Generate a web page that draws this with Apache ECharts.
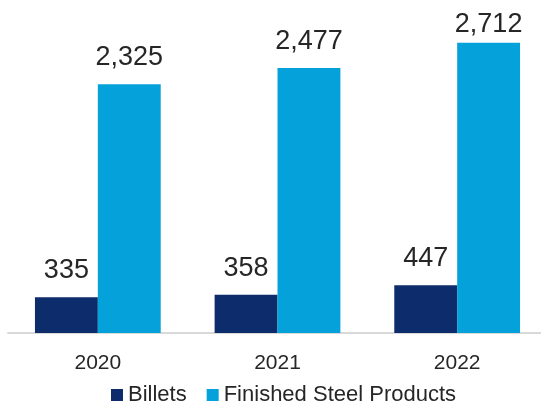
<!DOCTYPE html>
<html>
<head>
<meta charset="utf-8">
<script src="https://cdn.jsdelivr.net/npm/echarts@6/dist/echarts.min.js"></script>
<style>
  html, body { margin: 0; padding: 0; background: #ffffff; }
  #chart { width: 541px; height: 407px; }
</style>
</head>
<body>
<div id="chart"></div>
<script>
// Production volumes by year (thousand tonnes)
const years = ['2020', '2021', '2022'];
const billets = [335, 358, 447];
const finishedSteel = [2325, 2477, 2712];
const seriesNames = ['Billets', 'Finished Steel Products'];

const FONT = '"Liberation Sans", Arial, sans-serif';
const TEXT = '#262626';

// Plot area geometry
const PLOT_TOP = 12;
const PLOT_BOTTOM = 74;
const CHART_H = 407;
const Y_MAX = 3000;
const plotH = CHART_H - PLOT_TOP - PLOT_BOTTOM;

// Value labels sit above their bars, but are pulled down toward the bar
// when they would otherwise run past the top of the plot area.
const LABEL_GAP = 13;
const LABEL_ROOM = 38;
function labelDistance(v) {
  const barTop = PLOT_TOP + (Y_MAX - v) * plotH / Y_MAX;
  return Math.max(2, Math.min(LABEL_GAP, barTop - LABEL_ROOM));
}
function toItems(values) {
  return values.map(v => ({ value: v, label: { distance: labelDistance(v) } }));
}

const chart = echarts.init(document.getElementById('chart'), null, { renderer: 'canvas' });

const valueLabel = {
  show: true,
  position: 'top',
  distance: LABEL_GAP,
  fontFamily: FONT,
  fontSize: 27,
  color: TEXT,
  formatter: p => p.value.toLocaleString('en-US')
};

chart.setOption({
  animation: false,
  grid: {
    left: 8, width: 539, top: PLOT_TOP, bottom: PLOT_BOTTOM,
    containLabel: false,
    outerBoundsMode: 'none'
  },
  legend: {
    data: seriesNames,
    left: 111,
    top: 384,
    padding: 0,
    itemWidth: 12,
    itemHeight: 12,
    itemGap: 20,
    icon: 'rect',
    textStyle: { fontFamily: FONT, fontSize: 22, color: TEXT }
  },
  xAxis: {
    type: 'category',
    data: years,
    axisLine: { lineStyle: { color: '#d9d9d9', width: 2 } },
    axisTick: { show: false },
    axisLabel: { margin: 20, fontFamily: FONT, fontSize: 21, color: TEXT }
  },
  yAxis: {
    type: 'value',
    min: 0,
    max: Y_MAX,
    show: false,
    splitLine: { show: false }
  },
  series: [
    {
      name: seriesNames[0],
      type: 'bar',
      data: toItems(billets),
      barGap: '0%',
      barCategoryGap: '30%',
      itemStyle: { color: '#0c2c6b' },
      label: valueLabel
    },
    {
      name: seriesNames[1],
      type: 'bar',
      data: toItems(finishedSteel),
      barGap: '0%',
      barCategoryGap: '30%',
      itemStyle: { color: '#05a1da' },
      label: valueLabel
    }
  ]
});
</script>
</body>
</html>
